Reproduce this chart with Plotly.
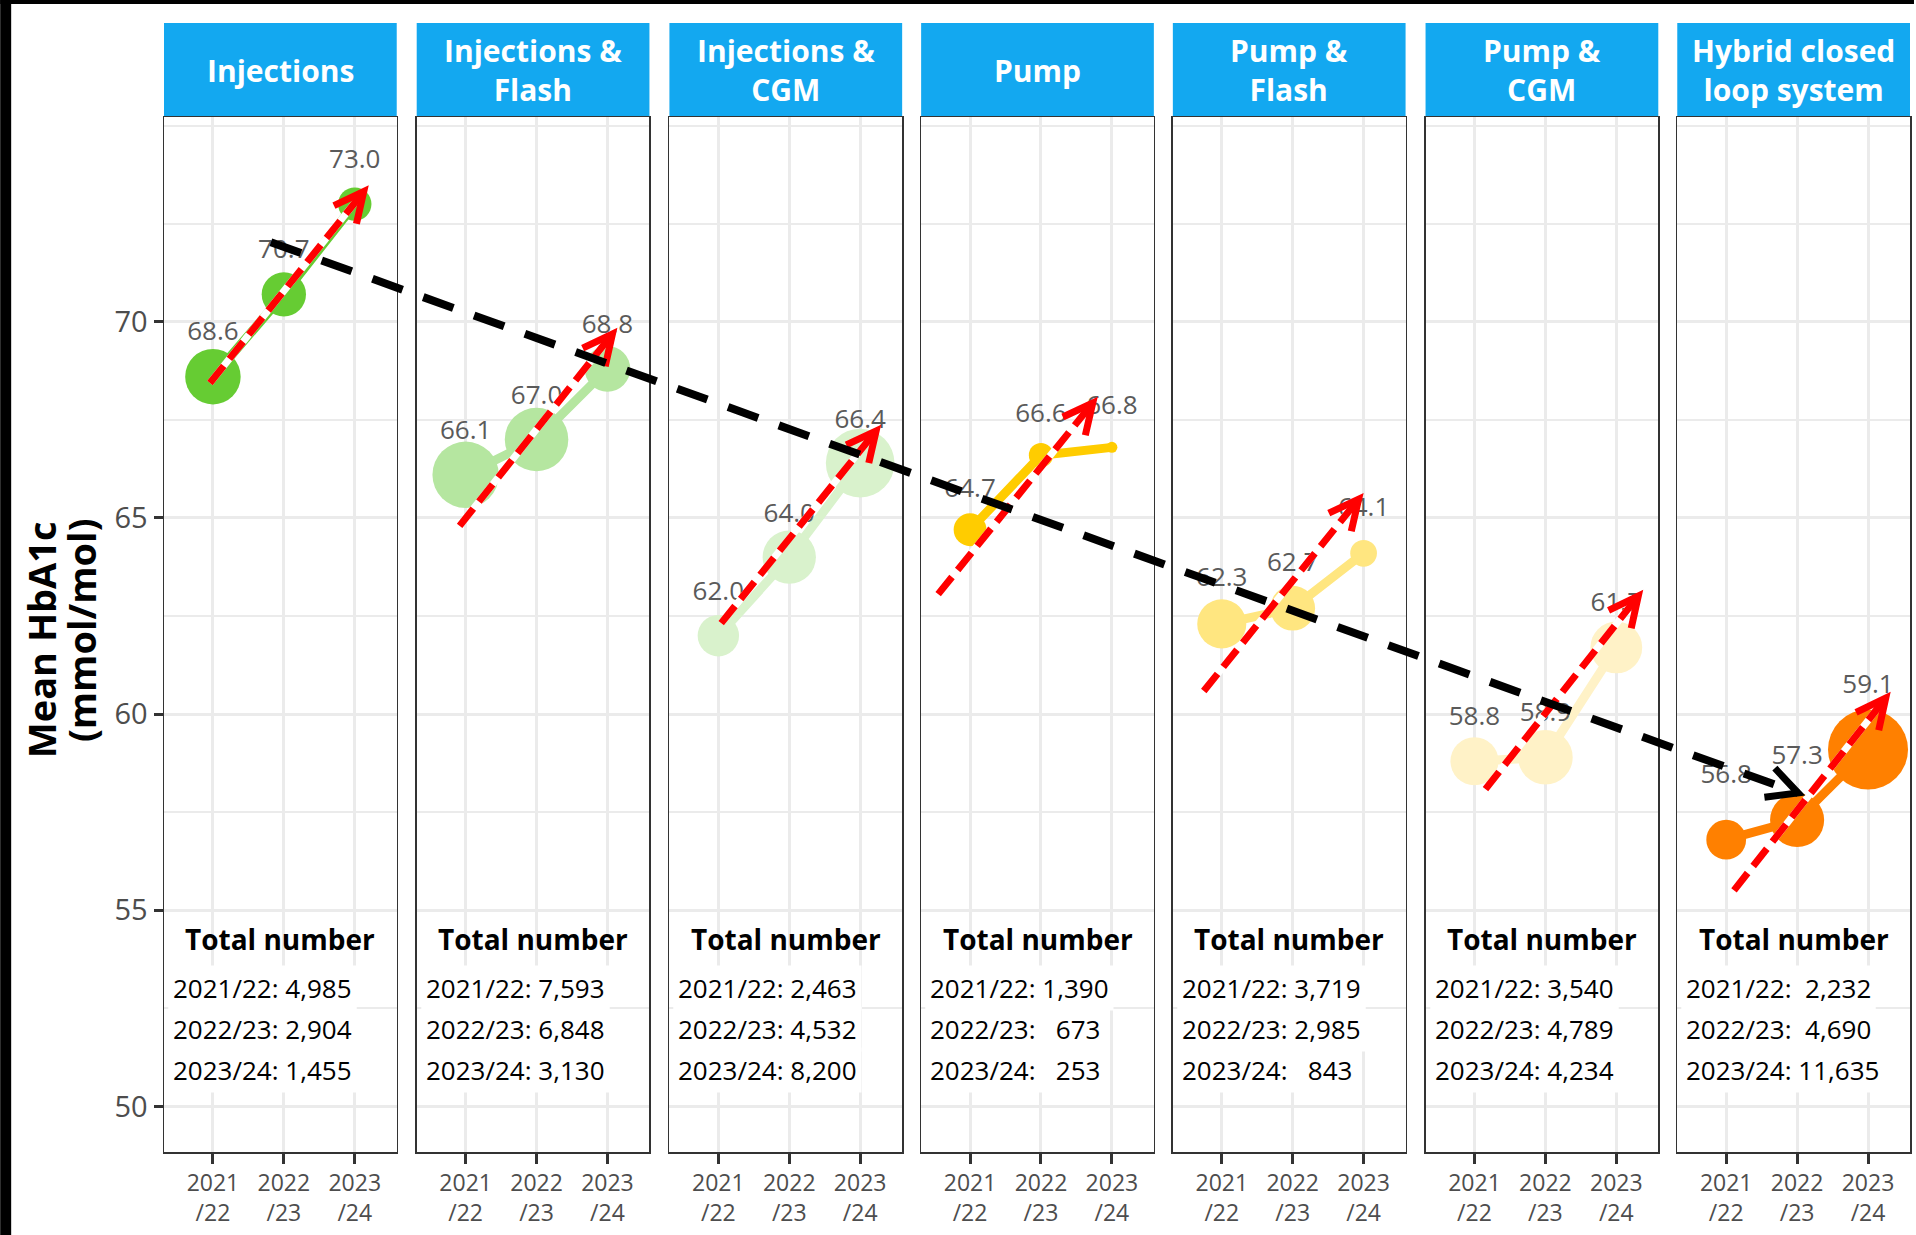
import math
import plotly.graph_objects as go

# ---------------- data ----------------
panel_titles = ["Injections", "Injections &<br>Flash", "Injections &<br>CGM", "Pump",
                "Pump &<br>Flash", "Pump &<br>CGM", "Hybrid closed<br>loop system"]
years = ["2021/22", "2022/23", "2023/24"]
year_ticks = ["2021<br>/22", "2022<br>/23", "2023<br>/24"]

mean_injections = [68.6, 70.7, 73.0]
mean_inj_flash = [66.1, 67.0, 68.8]
mean_inj_cgm = [62.0, 64.0, 66.4]
mean_pump = [64.7, 66.6, 66.8]
mean_pump_flash = [62.3, 62.7, 64.1]
mean_pump_cgm = [58.8, 58.9, 61.7]
mean_hybrid = [56.8, 57.3, 59.1]

n_injections = [4985, 2904, 1455]
n_inj_flash = [7593, 6848, 3130]
n_inj_cgm = [2463, 4532, 8200]
n_pump = [1390, 673, 253]
n_pump_flash = [3719, 2985, 843]
n_pump_cgm = [3540, 4789, 4234]
n_hybrid = [2232, 4690, 11635]

colors = ["#66CC33", "#B5E6A0", "#D9F2CC", "#FFCC00", "#FFE680", "#FFF2C7", "#FF8000"]

# overlaid trend arrows (tail x, tail y, tip x, tip y) in each panel's axis units
red_arrow_tail_x = [0.958, 0.915, 1.04, 0.55, 0.746, 1.155, 1.11]
red_arrow_tail_y = [68.44, 64.80, 62.32, 63.06, 60.59, 58.09, 55.51]
red_arrow_tip_x = [3.127, 3.07, 3.225, 2.73, 2.93, 3.31, 3.25]
red_arrow_tip_y = [73.32, 69.69, 67.22, 67.93, 65.48, 63.01, 60.41]
# black arrow: from panel 1 to panel 7 (axis units of those panels)
black_arrow_start = (1.817, 72.03)
black_arrow_end = (2.014, 57.99)

means = [mean_injections, mean_inj_flash, mean_inj_cgm, mean_pump,
         mean_pump_flash, mean_pump_cgm, mean_hybrid]
counts = [n_injections, n_inj_flash, n_inj_cgm, n_pump, n_pump_flash, n_pump_cgm, n_hybrid]

# ---------------- layout geometry ----------------
W, H = 1916, 1235
ML, MR, MT, MB = 164, 4, 117, 83
PW = W - ML - MR
PH = H - MT - MB
panel_left_px = [164, 417, 670, 922, 1174, 1427, 1679]
panel_w = 233
x_range = [0.31, 3.592]
y_range = [48.84, 75.22]
sx = panel_w / (x_range[1] - x_range[0])      # px per x unit
sy = PH / (y_range[1] - y_range[0])           # px per y unit
label_offset_px = [43, 42, 42, 39.5, 44, 43, 63]

FONT = "Open Sans, sans-serif"
GRID = "#EBEBEB"
BORDER = "#333333"

all_n = [v for c in counts for v in c]
nmin, nmax = min(all_n), max(all_n)


def diam(n):
    return 11 + 69 * math.sqrt((n - nmin) / (nmax - nmin))


def to_paper(i, x, y):
    px = panel_left_px[i] + (x - x_range[0]) * sx
    py = MT + (y_range[1] - y) * sy
    return (px - ML) / PW, (H - MB - py) / PH


def head_path(x0, y0, x1, y1, L, ang, ux, uy):
    bx = (x0 - x1) * ux
    by = -(y0 - y1) * uy
    th = math.atan2(by, bx)
    pts = []
    for s in (1, -1):
        a = th + s * math.radians(ang)
        pts.append((x1 + L * math.cos(a) / ux, y1 - L * math.sin(a) / uy))
    return f"M {pts[0][0]},{pts[0][1]} L {x1},{y1} L {pts[1][0]},{pts[1][1]}"


fig = go.Figure()
layout = dict(
    width=W, height=H,
    margin=dict(l=ML, r=MR, t=MT, b=MB, pad=0),
    paper_bgcolor="white", plot_bgcolor="white",
    showlegend=False,
    font=dict(family=FONT, color="#4D4D4D"),
)
shapes = []
annotations = []

for i in range(7):
    sfx = "" if i == 0 else str(i + 1)
    xa, ya = "x" + sfx, "y" + sfx
    d0 = (panel_left_px[i] - ML) / PW
    d1 = (panel_left_px[i] + panel_w - ML) / PW
    layout["xaxis" + sfx] = dict(
        domain=[d0, d1], range=x_range, anchor=ya,
        tickmode="array", tickvals=[1, 2, 3], ticktext=year_ticks,
        ticks="outside", ticklen=10, tickwidth=3, tickcolor=BORDER,
        tickfont=dict(size=23, color="#4D4D4D", family=FONT),
        showgrid=True, gridcolor=GRID, gridwidth=3,
        showline=True, linecolor=BORDER, linewidth=1.5, mirror=True,
        zeroline=False, fixedrange=True,
    )
    layout["yaxis" + sfx] = dict(
        domain=[0, 1], range=y_range, anchor=xa,
        tickmode="array", tickvals=[50, 55, 60, 65, 70],
        ticks="outside" if i == 0 else "", ticklen=9, tickwidth=3, tickcolor=BORDER,
        showticklabels=(i == 0),
        tickfont=dict(size=29, color="#4D4D4D", family=FONT),
        showgrid=True, gridcolor=GRID, gridwidth=3,
        minor=dict(tickvals=[52.5, 57.5, 62.5, 67.5, 72.5, 75], showgrid=True,
                   gridcolor=GRID, gridwidth=2, ticks=""),
        showline=True, linecolor=BORDER, linewidth=1.5, mirror=True,
        zeroline=False, fixedrange=True,
    )

    vals = means[i]
    ns = counts[i]
    fig.add_trace(go.Scatter(
        x=[1, 2, 3], y=vals, xaxis=xa, yaxis=ya, mode="lines+markers",
        line=dict(color=colors[i], width=9),
        marker=dict(color=colors[i], size=[diam(n) for n in ns], opacity=1,
                    line=dict(width=0)),
        hoverinfo="skip",
    ))
    off = label_offset_px[i] / sy
    fig.add_trace(go.Scatter(
        x=[1, 2, 3], y=[v + off for v in vals], xaxis=xa, yaxis=ya, mode="text",
        text=[f"{v:.1f}" for v in vals], textposition="middle center",
        textfont=dict(size=26, color="#5A5A5A", family=FONT),
        hoverinfo="skip", cliponaxis=False,
    ))

    # strip header
    shapes.append(dict(type="rect", xref="paper", yref="paper", x0=d0, x1=d1,
                       y0=1, y1=1 + 94 / PH, fillcolor="#13A8F0", line=dict(width=0),
                       layer="below"))
    annotations.append(dict(xref="paper", yref="paper", x=(d0 + d1) / 2,
                            y=(H - MB - 70) / PH,
                            text="<b>" + panel_titles[i] + "</b>", showarrow=False,
                            xanchor="center", yanchor="middle",
                            font=dict(size=30, color="white", family=FONT)))

    # total numbers
    cx = (x_range[0] + x_range[1]) / 2
    annotations.append(dict(xref=xa, yref=ya, x=cx, y=54.27, text="<b>Total number</b>",
                            showarrow=False, xanchor="center", yanchor="middle",
                            font=dict(size=28, color="black", family=FONT)))
    num_strs = [f"{n:,}" for n in ns]
    wmax = max(len(s) for s in num_strs)
    line_y = [53.02, 51.98, 50.93]
    for k in range(3):
        txt = years[k] + ":" + "\u00a0" * (1 + wmax - len(num_strs[k])) + num_strs[k]
        annotations.append(dict(xref=xa, yref=ya, x=x_range[0] + 4 / sx, y=line_y[k],
                                text=txt, showarrow=False, xanchor="left", yanchor="middle",
                                bgcolor="white", borderpad=4,
                                font=dict(size=26, color="black", family=FONT)))

    # red trend arrow
    tx, ty = red_arrow_tail_x[i], red_arrow_tail_y[i]
    hx, hy = red_arrow_tip_x[i], red_arrow_tip_y[i]
    shapes.append(dict(type="line", xref=xa, yref=ya, x0=tx, y0=ty, x1=hx, y1=hy,
                       line=dict(color="white", width=7), layer="above"))
    shapes.append(dict(type="line", xref=xa, yref=ya, x0=tx, y0=ty, x1=hx, y1=hy,
                       line=dict(color="#FF0000", width=7, dash="22px,9px"), layer="above"))
    shapes.append(dict(type="path", xref=xa, yref=ya,
                       path=head_path(tx, ty, hx, hy, 33, 26, sx, sy),
                       line=dict(color="#FF0000", width=7), layer="above"))

# black arrow across panels
bx0, by0 = to_paper(0, *black_arrow_start)
bx1, by1 = to_paper(6, *black_arrow_end)
shapes.append(dict(type="line", xref="paper", yref="paper", x0=bx0, y0=by0, x1=bx1, y1=by1,
                   line=dict(color="black", width=8, dash="32px,22px"), layer="above"))
shapes.append(dict(type="path", xref="paper", yref="paper",
                   path=head_path(bx0, by0, bx1, by1, 34, 27, PW, PH),
                   line=dict(color="black", width=7), layer="above"))

# black frame on top and left edges
shapes.append(dict(type="rect", xref="paper", yref="paper",
                   x0=(0 - ML) / PW, x1=(11 - ML) / PW, y0=(H - MB - H) / PH, y1=(H - MB) / PH,
                   fillcolor="black", line=dict(width=0), layer="above"))
shapes.append(dict(type="rect", xref="paper", yref="paper",
                   x0=(0 - ML) / PW, x1=(W - ML) / PW, y0=(H - MB - 4) / PH, y1=(H - MB) / PH,
                   fillcolor="black", line=dict(width=0), layer="above"))

# y-axis title (two lines)
annotations.append(dict(xref="paper", yref="paper", x=(41 - ML) / PW, y=(H - MB - 640) / PH,
                        text="<b>Mean HbA1c</b>", showarrow=False, textangle=-90,
                        xanchor="center", yanchor="middle",
                        font=dict(size=38, color="black", family=FONT)))
annotations.append(dict(xref="paper", yref="paper", x=(81 - ML) / PW, y=(H - MB - 630) / PH,
                        text="<b>(mmol/mol)</b>", showarrow=False, textangle=-90,
                        xanchor="center", yanchor="middle",
                        font=dict(size=38, color="black", family=FONT)))

layout["shapes"] = shapes
layout["annotations"] = annotations
fig.update_layout(**layout)

fig.write_html("out.html", config={"displayModeBar": False, "staticPlot": True},
               post_script="document.body.style.margin='0';document.body.style.overflow='hidden';")
